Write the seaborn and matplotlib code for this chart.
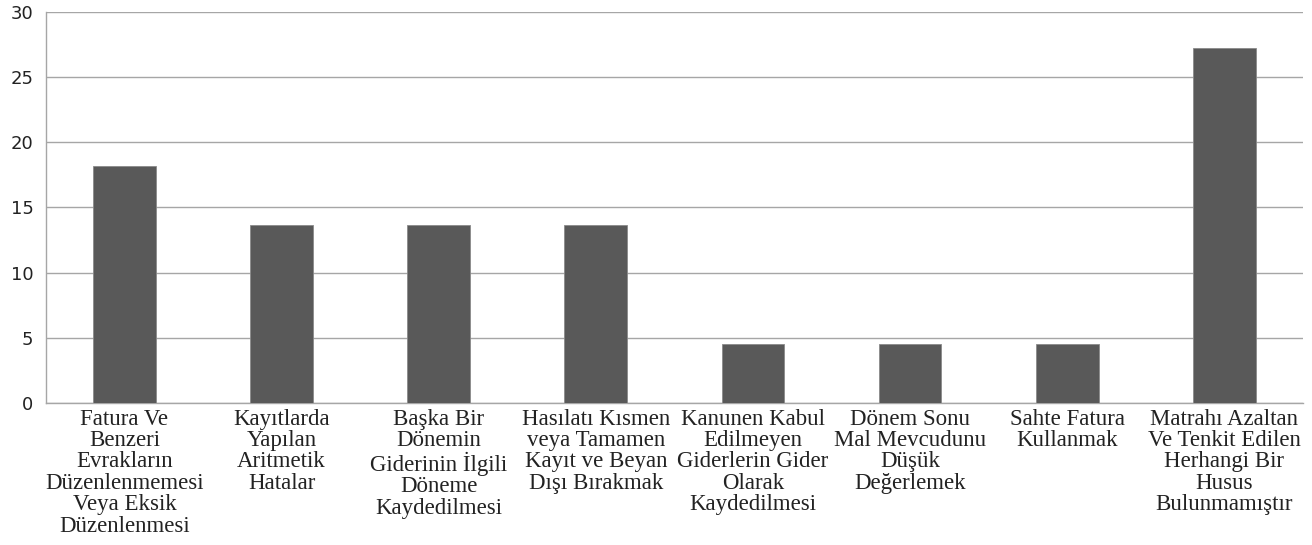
import matplotlib
matplotlib.use("Agg")
import matplotlib.pyplot as plt
import seaborn as sns
import pandas as pd
from matplotlib.ticker import FixedLocator

categories = [
    "Fatura Ve\nBenzeri\nEvrakların\nDüzenlenmemesi\nVeya Eksik\nDüzenlenmesi",
    "Kayıtlarda\nYapılan\nAritmetik\nHatalar",
    "Başka Bir\nDönemin\nGiderinin İlgili\nDöneme\nKaydedilmesi",
    "Hasılatı Kısmen\nveya Tamamen\nKayıt ve Beyan\nDışı Bırakmak",
    "Kanunen Kabul\nEdilmeyen\nGiderlerin Gider\nOlarak\nKaydedilmesi",
    "Dönem Sonu\nMal Mevcudunu\nDüşük\nDeğerlemek",
    "Sahte Fatura\nKullanmak",
    "Matrahı Azaltan\nVe Tenkit Edilen\nHerhangi Bir\nHusus\nBulunmamıştır",
]
values = [18.18, 13.64, 13.64, 13.64, 4.55, 4.55, 4.55, 27.27]
y_ticks = [0, 5, 10, 15, 20, 25, 30]

df = pd.DataFrame({"kategori": categories, "yuzde": values})

sns.set_style("white")
fig = plt.figure(figsize=(13.12, 5.45), dpi=100)
ax = fig.add_axes([0.035, 0.2606, 0.958, 0.7174])

sns.barplot(data=df, x="kategori", y="yuzde", color="#595959", width=0.4,
            saturation=1, edgecolor="#8a8a8a", linewidth=0.6, ax=ax, zorder=3)

ax.set_ylim(0, 30)
ax.set_xlim(-0.5, len(categories) - 0.5)
ax.set_yticks(y_ticks)
ax.yaxis.grid(True, color="#a6a6a6", linewidth=1.0, zorder=0)
ax.set_axisbelow(True)
ax.set_xlabel("")
ax.set_ylabel("")

for side in ["top", "right"]:
    ax.spines[side].set_visible(False)
ax.spines["left"].set_color("#a6a6a6")
ax.spines["bottom"].set_color("#a6a6a6")
ax.spines["left"].set_linewidth(1.0)
ax.spines["bottom"].set_linewidth(1.0)

# category labels without ticks, tick marks on the boundaries
ax.set_xticks(range(len(categories)))
ax.set_xticklabels(categories, fontfamily="Liberation Serif", fontsize=16.5,
                   linespacing=1.03, ha="center", color="#222222")
ax.tick_params(axis="x", length=0, pad=4)
ax.xaxis.set_minor_locator(FixedLocator([i - 0.5 for i in range(len(categories) + 1)]))
ax.tick_params(axis="x", which="minor", length=6, color="#a6a6a6", direction="out")
ax.tick_params(axis="y", length=6, color="#a6a6a6", direction="out", labelsize=13,
               pad=3, labelcolor="#222222")
for lab in ax.get_yticklabels():
    lab.set_fontfamily("DejaVu Sans")

fig.savefig("out.png", dpi=100)
